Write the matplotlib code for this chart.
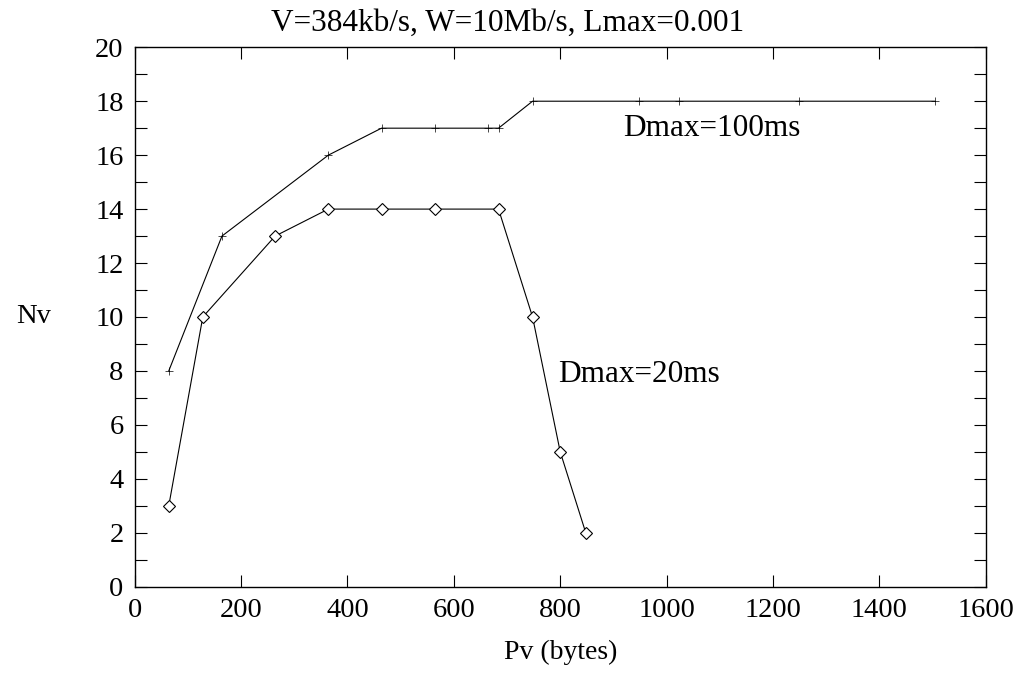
import matplotlib
matplotlib.use("Agg")
import matplotlib.pyplot as plt
import matplotlib.ticker as ticker

plt.rcParams['font.family'] = ['Liberation Serif', 'DejaVu Serif']

# データ
pv_100 = [64, 164, 364, 464, 564, 664, 684, 748, 948, 1024, 1248, 1504]
nv_100 = [8, 13, 16, 17, 17, 17, 17, 18, 18, 18, 18, 18]
pv_20 = [64, 128, 264, 364, 464, 564, 684, 748, 800, 848]
nv_20 = [3, 10, 13, 14, 14, 14, 14, 10, 5, 2]

title = "V=384kb/s, W=10Mb/s, Lmax=0.001"
label_100 = "Dmax=100ms"
label_20 = "Dmax=20ms"

fig = plt.figure(figsize=(10.16, 6.85), dpi=100)
ax = fig.add_axes([0.1326, 0.1435, 0.8376, 0.7875])

ax.plot(pv_100, nv_100, color="black", lw=0.8, marker="+", ms=6, mew=0.5)
ax.plot(pv_20, nv_20, color="black", lw=0.8, marker="D", ms=6.5, mew=0.8,
        mfc="white", mec="black")

ax.text(918, 17.0, label_100, fontsize=22.5, va="center", ha="left")
ax.text(796, 7.85, label_20, fontsize=22.5, va="center", ha="left")

ax.set_xlim(0, 1600)
ax.set_ylim(0, 20)
ax.xaxis.set_major_locator(ticker.MultipleLocator(200))
ax.yaxis.set_major_locator(ticker.MultipleLocator(2))
ax.yaxis.set_minor_locator(ticker.MultipleLocator(1))
ax.tick_params(which="both", direction="in", top=True, right=True,
               length=8.5, width=0.8, labelsize=20.5, pad=8)

fig.text(0.5, 0.966, title, fontsize=22.5, ha="center", va="center")
ax.set_xlabel("Pv (bytes)", fontsize=20, labelpad=12)
ax.set_ylabel("Nv", fontsize=20.5, rotation=0, labelpad=44, va="center")

for s in ax.spines.values():
    s.set_linewidth(1.0)

fig.savefig("out.png", dpi=100)
